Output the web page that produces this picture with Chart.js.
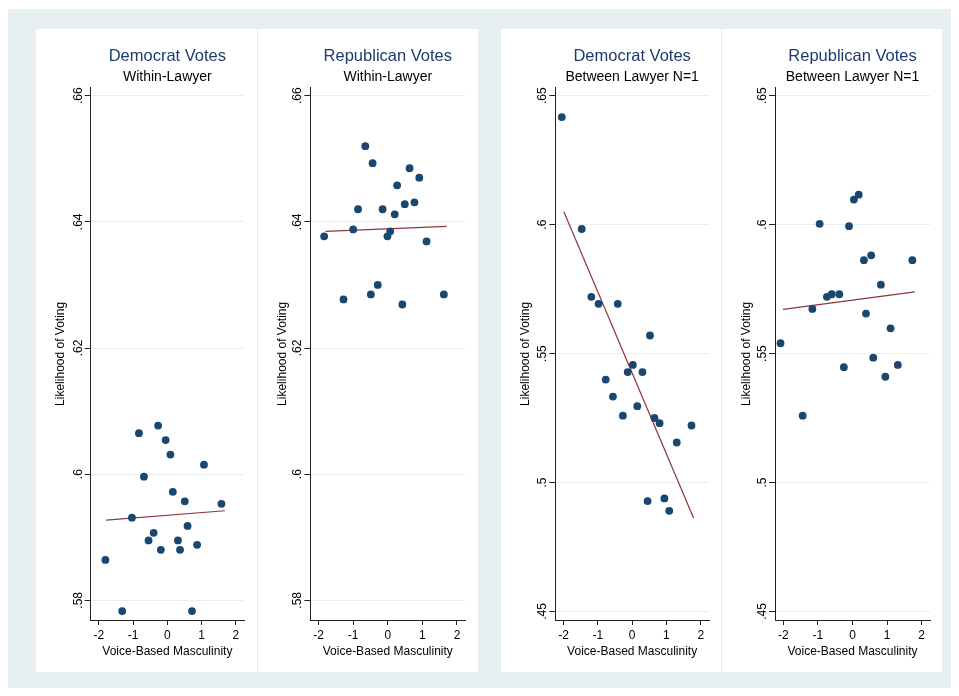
<!DOCTYPE html>
<html>
<head>
<meta charset="utf-8">
<script src="https://cdn.jsdelivr.net/npm/chart.js@4.4.1/dist/chart.umd.min.js"></script>
<style>
  body { margin: 0; background: #ffffff; }
  #bg { position: absolute; left: 8px; top: 9px; width: 943px; height: 679px; background: #e8eff2; }
  .panel { position: absolute; top: 29px; height: 643px; background: #ffffff; }
</style>
</head>
<body>
<div id="bg"></div>
<div class="panel" style="left:36px;width:221px"><canvas id="c1"></canvas></div>
<div class="panel" style="left:258px;width:220px"><canvas id="c2"></canvas></div>
<div class="panel" style="left:501px;width:220px"><canvas id="c3"></canvas></div>
<div class="panel" style="left:722px;width:220px"><canvas id="c4"></canvas></div>
<script>
// x ticks shared by all panels
const xTicks = [-2, -1, 0, 1, 2];
const withinYTicks = [0.58, 0.6, 0.62, 0.64, 0.66];
const betweenYTicks = [0.45, 0.5, 0.55, 0.6, 0.65];

// Democrat votes, within-lawyer
const demWithinX = [-1.81, -1.32, -1.035, -0.83, -0.685, -0.55, -0.40, -0.27, -0.19, -0.05, 0.09, 0.16, 0.31, 0.37, 0.51, 0.59, 0.72, 0.87, 1.07, 1.58];
const demWithinY = [0.5864, 0.5783, 0.5931, 0.6065, 0.5996, 0.5895, 0.5907, 0.6077, 0.5880, 0.6054, 0.6031, 0.5972, 0.5895, 0.5880, 0.5957, 0.5918, 0.5783, 0.5888, 0.6015, 0.5953];
const demWithinFitX = [-1.79, 1.68];
const demWithinFitY = [0.5927, 0.5942];

// Republican votes, within-lawyer
const repWithinX = [-1.84, -1.28, -1.0, -0.86, -0.65, -0.49, -0.44, -0.29, -0.15, -0.01, 0.07, 0.20, 0.27, 0.42, 0.49, 0.63, 0.77, 0.91, 1.12, 1.62];
const repWithinY = [0.6377, 0.6277, 0.6388, 0.6420, 0.6520, 0.6285, 0.6493, 0.6300, 0.6420, 0.6377, 0.6385, 0.6412, 0.6458, 0.6269, 0.6428, 0.6485, 0.6431, 0.6470, 0.6369, 0.6285];
const repWithinFitX = [-1.80, 1.70];
const repWithinFitY = [0.6385, 0.6393];

// Democrat votes, between lawyer
const demBetweenX = [-2.05, -1.47, -1.19, -0.98, -0.77, -0.56, -0.42, -0.27, -0.13, 0.02, 0.15, 0.30, 0.45, 0.52, 0.65, 0.80, 0.94, 1.08, 1.30, 1.73];
const demBetweenY = [0.6417, 0.5983, 0.5720, 0.5693, 0.5399, 0.5333, 0.5693, 0.5259, 0.5428, 0.5456, 0.5296, 0.5428, 0.4928, 0.5570, 0.5250, 0.5230, 0.4938, 0.4890, 0.5155, 0.5221];
const demBetweenFitX = [-1.99, 1.79];
const demBetweenFitY = [0.6050, 0.4862];

// Republican votes, between lawyer
const repBetweenX = [-2.08, -1.44, -1.16, -0.95, -0.74, -0.60, -0.38, -0.25, -0.10, 0.04, 0.18, 0.33, 0.39, 0.54, 0.60, 0.82, 0.95, 1.10, 1.31, 1.73];
const repBetweenY = [0.5540, 0.5259, 0.5673, 0.6003, 0.5720, 0.5730, 0.5730, 0.5447, 0.5994, 0.6097, 0.6116, 0.5862, 0.5655, 0.5881, 0.5484, 0.5767, 0.5410, 0.5598, 0.5456, 0.5862];
const repBetweenFitX = [-2.01, 1.80];
const repBetweenFitY = [0.5671, 0.5739];

const FONT = 'Liberation Sans, Arial, sans-serif';
const NAVY = '#1a476f';
const MAROON = '#90353b';
const AXIS = '#222222';
const GRID = '#e6eef0';

// stata style: .6 instead of 0.6
function fmtTick(v) {
    return String(+v.toFixed(2)).replace(/^0\./, '.').replace(/^-0\./, '-.');
}

function makeChart(id, opts) {
    const ctx = document.getElementById(id).getContext('2d');
    const pts = opts.xs.map((x, i) => ({ x: x, y: opts.ys[i] }));
    const fit = opts.fitX.map((x, i) => ({ x: x, y: opts.fitY[i] }));
    return new Chart(ctx, {
        type: 'scatter',
        data: {
            datasets: [
                {
                    data: pts,
                    backgroundColor: NAVY,
                    borderColor: NAVY,
                    pointRadius: 3.9,
                    borderWidth: 0
                },
                {
                    type: 'line',
                    data: fit,
                    borderColor: MAROON,
                    borderWidth: 1.2,
                    pointRadius: 0,
                    fill: false
                }
            ]
        },
        options: {
            responsive: true,
            maintainAspectRatio: false,
            animation: false,
            layout: { padding: { left: 0, right: opts.rightPad, top: 0, bottom: 0 } },
            plugins: {
                legend: { display: false },
                tooltip: { enabled: false },
                title: {
                    display: true,
                    text: opts.title,
                    fullSize: false,
                    color: '#1e3a6e',
                    font: { family: FONT, size: 16.5, weight: 'normal', lineHeight: 1.2 },
                    padding: { top: 17.5, bottom: 0 }
                },
                subtitle: {
                    display: true,
                    text: opts.subtitle,
                    fullSize: false,
                    color: '#000000',
                    font: { family: FONT, size: 14, weight: 'normal', lineHeight: 1.2 },
                    padding: { top: 2, bottom: 2.6 }
                }
            },
            scales: {
                x: {
                    type: 'linear',
                    min: -2.24,
                    max: 2.24,
                    afterBuildTicks: s => { s.ticks = xTicks.map(v => ({ value: v })); },
                    afterFit: s => { s.height = 52; },
                    border: { display: true, color: AXIS, width: 1 },
                    grid: { drawOnChartArea: false, drawTicks: true, tickLength: 5, tickColor: AXIS },
                    ticks: {
                        color: '#000',
                        font: { family: FONT, size: 12 },
                        padding: 3,
                        maxRotation: 0,
                        autoSkip: false,
                        callback: v => fmtTick(v)
                    },
                    title: {
                        display: true,
                        text: 'Voice-Based Masculinity',
                        color: '#000',
                        font: { family: FONT, size: 12, lineHeight: 1.2 },
                        padding: { top: 0, bottom: 13.5 }
                    }
                },
                y: {
                    type: 'linear',
                    min: opts.yMin,
                    max: opts.yMax,
                    afterBuildTicks: s => { s.ticks = opts.yTicks.map(v => ({ value: v })); },
                    afterFit: s => { s.width = opts.yAxisWidth; },
                    border: { display: true, color: AXIS, width: 1 },
                    grid: { color: GRID, lineWidth: 1, drawTicks: true, tickLength: 6, tickColor: AXIS },
                    ticks: {
                        color: '#000',
                        font: { family: FONT, size: 12 },
                        padding: -2,
                        minRotation: 90,
                        maxRotation: 90,
                        crossAlign: 'center',
                        autoSkip: false,
                        callback: v => fmtTick(v)
                    },
                    title: {
                        display: true,
                        text: 'Likelihood of Voting',
                        color: '#000',
                        font: { family: FONT, size: 12, lineHeight: 1.2 },
                        padding: { top: 17.3, bottom: 0 }
                    }
                }
            }
        }
    });
}

makeChart('c1', {
    xs: demWithinX, ys: demWithinY, fitX: demWithinFitX, fitY: demWithinFitY,
    title: 'Democrat Votes', subtitle: 'Within-Lawyer',
    yMin: 0.57688, yMax: 0.66127, yTicks: withinYTicks,
    yAxisWidth: 54.7, rightPad: 13
});
makeChart('c2', {
    xs: repWithinX, ys: repWithinY, fitX: repWithinFitX, fitY: repWithinFitY,
    title: 'Republican Votes', subtitle: 'Within-Lawyer',
    yMin: 0.57688, yMax: 0.66127, yTicks: withinYTicks,
    yAxisWidth: 52.3, rightPad: 12.7
});
makeChart('c3', {
    xs: demBetweenX, ys: demBetweenY, fitX: demBetweenFitX, fitY: demBetweenFitY,
    title: 'Democrat Votes', subtitle: 'Between Lawyer N=1',
    yMin: 0.44667, yMax: 0.6531, yTicks: betweenYTicks,
    yAxisWidth: 54.3, rightPad: 12
});
makeChart('c4', {
    xs: repBetweenX, ys: repBetweenY, fitX: repBetweenFitX, fitY: repBetweenFitY,
    title: 'Republican Votes', subtitle: 'Between Lawyer N=1',
    yMin: 0.44667, yMax: 0.6531, yTicks: betweenYTicks,
    yAxisWidth: 53, rightPad: 12
});
</script>
</body>
</html>
